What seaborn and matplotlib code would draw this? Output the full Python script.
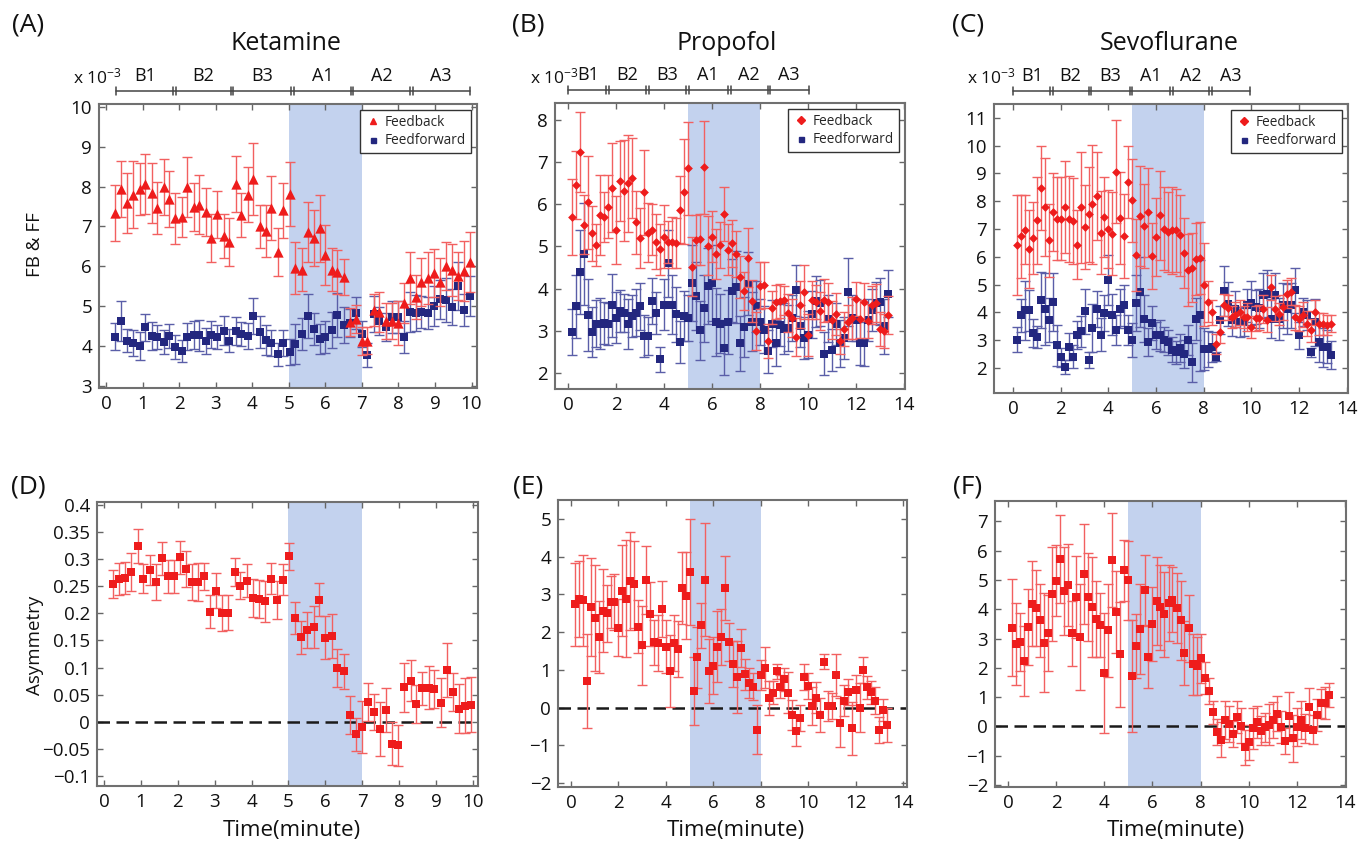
import numpy as np
import matplotlib
matplotlib.use("Agg")
import matplotlib.pyplot as plt
import seaborn as sns
from matplotlib.lines import Line2D
from matplotlib.ticker import FuncFormatter

# ------------------------------------------------------------------ data
time_ket = [0.25, 0.41, 0.58, 0.74, 0.91, 1.07, 1.24, 1.40, 1.57, 1.73,
            1.89, 2.06, 2.22, 2.39, 2.55, 2.72, 2.88, 3.04, 3.21, 3.37,
            3.54, 3.70, 3.87, 4.03, 4.20, 4.36, 4.52, 4.69, 4.85, 5.02,
            5.18, 5.35, 5.51, 5.68, 5.84, 6.00, 6.17, 6.33, 6.50, 6.66,
            6.83, 6.99, 7.15, 7.32, 7.48, 7.65, 7.81, 7.98, 8.14, 8.31,
            8.47, 8.63, 8.80, 8.96, 9.13, 9.29, 9.46, 9.62, 9.79, 9.95]

time_80 = [0.17, 0.33, 0.50, 0.67, 0.83, 1.00, 1.17, 1.33, 1.50, 1.67,
           1.83, 2.00, 2.17, 2.33, 2.50, 2.67, 2.83, 3.00, 3.17, 3.33,
           3.50, 3.67, 3.83, 4.00, 4.17, 4.33, 4.50, 4.67, 4.83, 5.00,
           5.17, 5.33, 5.50, 5.67, 5.83, 6.00, 6.17, 6.33, 6.50, 6.67,
           6.83, 7.00, 7.17, 7.33, 7.50, 7.67, 7.83, 8.00, 8.17, 8.33,
           8.50, 8.67, 8.83, 9.00, 9.17, 9.33, 9.50, 9.67, 9.83, 10.00,
           10.17, 10.33, 10.50, 10.67, 10.83, 11.00, 11.17, 11.33, 11.50, 11.67,
           11.83, 12.00, 12.17, 12.33, 12.50, 12.67, 12.83, 13.00, 13.17, 13.33]

# Ketamine (x 1e-3)
ket_fb = [7.34, 7.94, 7.59, 7.80, 7.93, 8.07, 7.84, 7.47, 7.99, 7.68,
          7.20, 7.24, 7.98, 7.49, 7.55, 7.37, 6.71, 7.30, 6.76, 6.61,
          8.07, 7.29, 7.80, 8.19, 7.00, 6.89, 7.47, 6.37, 7.40, 7.82,
          5.96, 5.92, 6.87, 6.71, 6.95, 6.29, 5.92, 5.85, 5.73, 4.60,
          4.67, 4.12, 4.14, 4.90, 4.85, 4.63, 4.63, 4.58, 5.07, 5.71,
          5.24, 5.60, 5.70, 5.83, 5.60, 6.00, 5.90, 5.75, 5.88, 6.10]
ket_fb_err = [0.70, 0.70, 0.75, 0.85, 0.65, 0.75, 0.75, 0.65, 0.70, 0.70,
              0.65, 0.50, 0.75, 0.60, 0.75, 0.60, 0.60, 0.60, 0.55, 0.60,
              0.70, 0.55, 0.70, 0.90, 0.55, 0.65, 0.80, 0.60, 0.70, 0.80,
              0.65, 0.55, 0.75, 0.70, 0.85, 0.75, 0.55, 0.55, 0.45, 0.35,
              0.35, 0.35, 0.35, 0.40, 0.50, 0.45, 0.45, 0.55, 0.50, 0.65,
              0.55, 0.60, 0.65, 0.60, 0.60, 0.60, 0.65, 0.60, 0.75, 0.75]
ket_ff = [4.24, 4.62, 4.14, 4.08, 4.00, 4.47, 4.26, 4.22, 4.11, 4.25,
          3.97, 3.87, 4.24, 4.27, 4.27, 4.13, 4.29, 4.24, 4.39, 4.14,
          4.39, 4.30, 4.25, 4.75, 4.36, 4.15, 4.08, 3.79, 4.07, 3.86,
          4.05, 4.31, 4.75, 4.43, 4.17, 4.22, 4.41, 4.79, 4.53, 4.58,
          4.83, 4.30, 3.77, 4.81, 4.64, 4.47, 4.73, 4.72, 4.22, 4.85,
          4.83, 4.85, 4.82, 5.00, 5.17, 5.15, 4.98, 5.50, 4.90, 5.25]
ket_ff_err = [0.33, 0.50, 0.30, 0.33, 0.35, 0.33, 0.35, 0.30, 0.30, 0.30,
              0.30, 0.28, 0.33, 0.35, 0.38, 0.33, 0.33, 0.30, 0.37, 0.30,
              0.35, 0.30, 0.33, 0.45, 0.40, 0.38, 0.33, 0.30, 0.33, 0.33,
              0.50, 0.40, 0.55, 0.40, 0.38, 0.40, 0.45, 0.55, 0.45, 0.35,
              0.40, 0.33, 0.30, 0.45, 0.35, 0.35, 0.40, 0.40, 0.40, 0.50,
              0.45, 0.40, 0.40, 0.50, 0.50, 0.55, 0.45, 0.60, 0.40, 0.50]
ket_asym = [0.254, 0.263, 0.265, 0.277, 0.324, 0.264, 0.280, 0.257, 0.301, 0.268,
            0.268, 0.303, 0.281, 0.258, 0.258, 0.268, 0.203, 0.242, 0.201, 0.201,
            0.276, 0.251, 0.260, 0.229, 0.227, 0.222, 0.264, 0.225, 0.262, 0.305,
            0.191, 0.156, 0.169, 0.175, 0.225, 0.155, 0.158, 0.099, 0.093, 0.012,
            -0.023, -0.010, 0.036, 0.019, -0.013, 0.022, -0.040, -0.043, 0.064, 0.076,
            0.033, 0.062, 0.063, 0.061, 0.035, 0.096, 0.056, 0.024, 0.030, 0.032]
ket_asym_err = [0.025, 0.030, 0.030, 0.035, 0.031, 0.027, 0.027, 0.033, 0.030, 0.030,
                0.030, 0.031, 0.033, 0.033, 0.035, 0.025, 0.030, 0.033, 0.033, 0.032,
                0.026, 0.025, 0.030, 0.035, 0.035, 0.038, 0.028, 0.035, 0.028, 0.025,
                0.030, 0.030, 0.033, 0.038, 0.030, 0.040, 0.040, 0.035, 0.033, 0.035,
                0.030, 0.048, 0.035, 0.033, 0.050, 0.040, 0.040, 0.038, 0.045, 0.038,
                0.035, 0.030, 0.040, 0.035, 0.045, 0.050, 0.035, 0.045, 0.050, 0.050]

# Propofol (x 1e-3)
pro_fb = [5.70, 6.46, 7.23, 5.51, 6.05, 5.31, 5.03, 5.75, 5.70, 5.94,
          6.39, 5.39, 6.56, 6.32, 6.50, 6.63, 5.57, 5.20, 6.28, 5.33,
          5.40, 5.11, 4.93, 5.23, 5.10, 5.10, 5.08, 5.87, 6.30, 6.85,
          4.52, 5.15, 5.17, 6.88, 5.02, 5.23, 4.82, 5.03, 5.77, 4.92,
          5.07, 4.82, 4.28, 3.94, 4.73, 3.70, 3.00, 4.07, 4.08, 2.75,
          3.55, 3.68, 3.70, 3.72, 3.42, 3.30, 2.85, 3.62, 3.92, 2.90,
          3.72, 3.68, 3.48, 3.72, 3.68, 3.25, 3.40, 2.75, 3.05, 3.20,
          3.30, 3.75, 3.27, 3.68, 3.23, 3.60, 3.65, 3.05, 3.00, 3.38]
pro_fb_err = [0.90, 0.80, 0.95, 0.70, 1.10, 0.65, 0.50, 0.95, 0.60, 0.75,
              1.05, 0.80, 0.95, 1.20, 1.15, 0.95, 0.75, 0.70, 1.00, 0.70,
              0.60, 0.65, 0.60, 0.75, 0.50, 0.60, 0.60, 0.80, 1.25, 1.10,
              0.70, 0.60, 0.60, 1.10, 0.70, 0.60, 0.60, 0.55, 0.65, 0.60,
              0.55, 0.55, 0.50, 0.45, 0.70, 0.50, 0.45, 0.55, 0.55, 0.40,
              0.40, 0.40, 0.40, 0.35, 0.45, 0.45, 0.45, 0.55, 0.65, 0.50,
              0.45, 0.40, 0.45, 0.50, 0.45, 0.45, 0.50, 0.30, 0.40, 0.40,
              0.50, 0.40, 0.45, 0.45, 0.40, 0.45, 0.45, 0.40, 0.40, 0.45]
pro_ff = [2.97, 3.58, 4.40, 4.82, 3.37, 2.97, 3.17, 3.17, 3.19, 3.16,
          3.60, 3.31, 3.47, 3.43, 3.16, 3.35, 3.43, 3.58, 2.87, 2.87,
          3.70, 3.43, 2.32, 3.62, 4.60, 3.62, 3.39, 2.74, 3.35, 3.31,
          4.14, 3.82, 3.01, 3.53, 4.06, 4.14, 3.21, 3.17, 2.60, 3.21,
          3.95, 4.04, 2.70, 3.09, 4.12, 3.21, 3.58, 3.21, 3.03, 2.51,
          3.17, 2.71, 3.13, 3.05, 3.07, 3.31, 3.96, 3.11, 2.82, 2.91,
          3.39, 3.70, 3.66, 2.46, 3.29, 2.54, 3.17, 2.70, 2.82, 3.92,
          3.31, 3.25, 2.70, 2.71, 3.25, 3.50, 3.66, 3.69, 3.11, 3.88]
pro_ff_err = [0.55, 0.75, 1.00, 1.20, 0.85, 0.60, 0.55, 0.60, 0.50, 0.50,
              0.75, 0.60, 0.50, 0.45, 0.60, 0.50, 0.55, 0.55, 0.50, 0.45,
              0.55, 0.50, 0.30, 0.60, 0.80, 0.70, 0.65, 0.50, 0.60, 0.55,
              0.90, 0.80, 0.70, 0.80, 0.90, 0.90, 0.80, 0.70, 0.65, 0.75,
              0.75, 0.85, 0.65, 0.70, 0.75, 0.70, 0.60, 0.55, 0.55, 0.50,
              0.55, 0.55, 0.50, 0.60, 0.55, 0.55, 0.60, 0.50, 0.50, 0.55,
              0.55, 0.60, 0.55, 0.50, 0.55, 0.50, 0.50, 0.55, 0.50, 0.80,
              0.55, 0.50, 0.50, 0.55, 0.50, 0.50, 0.50, 0.55, 0.65, 0.55]
pro_asym = [2.74, 2.88, 2.84, 0.71, 2.66, 2.37, 1.88, 2.57, 2.50, 2.80,
            2.80, 2.12, 3.10, 2.88, 3.35, 3.27, 2.15, 1.65, 3.39, 2.48,
            1.73, 1.71, 2.61, 1.62, 0.97, 1.71, 1.55, 3.17, 2.96, 3.59,
            0.44, 1.33, 2.18, 3.39, 0.97, 1.11, 1.62, 1.87, 3.17, 1.73,
            1.16, 0.82, 1.59, 0.88, 0.66, 0.56, -0.58, 0.87, 1.06, 0.25,
            0.40, 0.96, 0.56, 0.75, 0.40, -0.19, -0.61, -0.27, 0.81, 0.58,
            0.05, 0.27, -0.19, 1.22, 0.05, 0.04, 0.87, -0.40, 0.19, 0.41,
            -0.55, 0.47, 0.00, 1.00, 0.54, 0.41, 0.19, -0.59, -0.06, -0.46]
pro_asym_err = [1.10, 1.00, 1.20, 1.25, 1.30, 1.40, 0.95, 1.10, 0.75, 0.70,
                0.75, 0.75, 1.20, 1.55, 1.30, 1.15, 0.70, 1.05, 0.90, 0.85,
                0.60, 0.75, 0.75, 0.70, 0.95, 0.75, 0.75, 0.95, 1.15, 1.40,
                0.90, 0.80, 0.60, 1.50, 0.85, 0.75, 0.95, 0.75, 0.85, 0.50,
                0.60, 0.95, 0.50, 0.40, 0.40, 0.35, 0.65, 0.40, 0.55, 0.45,
                0.30, 0.20, 0.30, 0.30, 0.55, 0.40, 0.40, 0.35, 0.35, 0.35,
                0.50, 0.40, 0.45, 0.20, 0.40, 0.35, 0.55, 0.65, 0.40, 0.35,
                0.70, 0.40, 0.65, 0.35, 0.30, 0.30, 0.35, 0.35, 0.30, 0.45]

# Sevoflurane (x 1e-3)
sevo_fb = [6.41, 6.74, 6.98, 6.29, 6.68, 7.31, 8.48, 7.79, 6.59, 7.61,
           7.37, 7.37, 7.79, 7.37, 7.28, 6.44, 7.79, 7.07, 7.53, 7.89,
           8.19, 6.87, 7.43, 7.01, 6.83, 9.06, 7.41, 6.75, 8.70, 8.03,
           6.07, 7.48, 7.11, 7.61, 6.03, 6.71, 7.49, 7.01, 6.89, 6.95,
           6.95, 6.77, 6.13, 5.53, 5.61, 5.91, 5.95, 5.00, 4.39, 4.01,
           2.87, 3.31, 4.28, 4.16, 3.83, 3.92, 4.01, 3.83, 3.83, 3.47,
           3.79, 3.80, 4.13, 3.73, 4.91, 4.13, 3.95, 4.19, 4.67, 4.75,
           3.83, 3.77, 3.91, 3.59, 3.35, 4.01, 3.59, 3.59, 3.55, 3.59]
sevo_fb_err = [1.80, 1.50, 1.25, 1.40, 1.30, 1.55, 1.50, 1.75, 1.30, 1.40,
               1.50, 1.50, 1.65, 1.55, 1.55, 1.25, 2.00, 1.50, 1.70, 2.15,
               1.60, 1.50, 1.45, 1.40, 1.50, 1.85, 1.65, 1.50, 1.30, 1.50,
               1.30, 1.80, 1.50, 1.60, 1.20, 1.40, 1.60, 1.50, 1.45, 1.55,
               1.50, 1.45, 1.25, 1.30, 1.25, 1.30, 1.30, 1.50, 0.75, 0.45,
               0.35, 0.40, 0.40, 0.45, 0.40, 0.45, 0.45, 0.40, 0.50, 0.40,
               0.45, 0.45, 0.50, 0.45, 0.45, 0.45, 0.40, 0.45, 0.50, 0.50,
               0.45, 0.45, 0.45, 0.45, 0.40, 0.45, 0.40, 0.40, 0.35, 0.30]
sevo_ff = [3.01, 3.89, 4.07, 4.07, 3.26, 3.11, 4.45, 4.13, 3.73, 4.37,
           2.81, 2.38, 2.05, 2.77, 2.41, 3.20, 3.32, 4.04, 2.29, 3.44,
           4.13, 3.20, 3.98, 5.15, 3.92, 3.37, 4.13, 4.25, 3.37, 3.01,
           4.33, 4.73, 3.77, 2.93, 3.62, 3.17, 3.17, 3.01, 2.93, 2.65,
           2.56, 2.72, 2.50, 3.01, 2.20, 3.77, 3.89, 2.69, 2.69, 2.75,
           2.41, 3.73, 4.76, 4.31, 3.71, 4.13, 3.65, 3.65, 4.25, 4.33,
           4.19, 4.15, 4.61, 4.67, 3.77, 4.61, 3.77, 4.25, 4.13, 4.25,
           4.79, 3.17, 4.01, 3.91, 2.56, 3.65, 2.93, 2.75, 2.77, 2.48]
sevo_ff_err = [0.45, 0.60, 1.05, 0.75, 0.50, 0.40, 1.00, 1.30, 0.80, 1.05,
               0.75, 0.35, 0.25, 0.50, 0.40, 0.50, 0.55, 0.80, 0.30, 0.85,
               0.65, 0.60, 0.65, 0.90, 0.75, 0.55, 0.70, 0.75, 0.55, 0.60,
               1.00, 1.25, 0.85, 0.50, 0.60, 0.50, 0.55, 0.45, 0.45, 0.45,
               0.40, 0.50, 0.50, 0.55, 0.70, 0.75, 2.00, 0.75, 0.65, 0.55,
               0.15, 0.50, 0.90, 0.80, 0.55, 0.65, 0.55, 0.50, 0.60, 0.80,
               0.60, 0.70, 0.80, 0.85, 0.70, 0.80, 0.75, 0.80, 0.90, 0.80,
               0.80, 0.50, 0.50, 0.55, 0.15, 0.85, 0.70, 0.70, 0.60, 0.50]
sevo_asym = [3.37, 2.83, 2.88, 2.24, 3.39, 4.19, 4.03, 3.63, 2.86, 3.20,
             4.53, 4.98, 5.72, 4.62, 4.82, 3.18, 4.43, 3.05, 5.21, 4.43,
             4.07, 3.68, 3.46, 1.84, 3.28, 5.68, 3.90, 2.46, 5.33, 5.00,
             1.72, 2.74, 3.33, 4.67, 2.37, 3.50, 4.28, 4.07, 3.83, 4.22,
             4.33, 4.05, 3.63, 2.50, 3.35, 2.12, 2.07, 2.32, 1.65, 1.20,
             0.48, -0.20, -0.45, 0.23, 0.08, -0.26, 0.33, 0.02, -0.72, -0.54,
             -0.07, 0.16, -0.15, -0.03, 0.05, 0.22, 0.44, -0.03, -0.49, 0.34,
             -0.41, -0.03, 0.23, -0.06, 0.67, -0.11, 0.39, 0.79, 0.79, 1.07]
sevo_asym_err = [1.65, 1.40, 1.00, 1.20, 1.30, 1.45, 1.30, 1.25, 1.70, 1.30,
                 1.60, 1.20, 1.50, 1.50, 1.40, 1.10, 1.40, 1.80, 1.70, 1.50,
                 1.70, 1.30, 1.10, 2.05, 1.60, 1.60, 1.40, 1.80, 1.05, 1.35,
                 1.90, 1.10, 1.55, 1.20, 1.05, 1.25, 1.50, 1.45, 1.45, 1.30,
                 1.10, 1.20, 1.35, 1.10, 1.15, 1.05, 1.00, 0.85, 0.55, 0.45,
                 0.40, 0.45, 0.60, 0.65, 0.60, 0.45, 0.55, 0.60, 0.60, 0.60,
                 0.70, 0.55, 0.50, 0.50, 0.70, 0.60, 0.60, 0.55, 0.45, 0.85,
                 0.80, 0.65, 0.65, 0.50, 0.65, 0.50, 0.55, 0.50, 0.55, 0.40]

epoch_labels = ["B1", "B2", "B3", "A1", "A2", "A3"]
ket_epochs = [0.26, 1.86, 3.44, 5.10, 6.73, 8.36, 9.96]
pro_epochs = [0.00, 1.64, 3.30, 4.97, 6.72, 8.38, 10.05]
sevo_epochs = [0.00, 1.60, 3.23, 4.94, 6.65, 8.28, 9.95]
ket_span = [5, 7]
pro_span = [5, 8]
sevo_span = [5, 8]

# ------------------------------------------------------------------ style
sns.set_theme(style="ticks")
plt.rcParams["font.family"] = ["Open Sans", "DejaVu Sans"]
plt.rcParams["mathtext.fontset"] = "custom"
plt.rcParams["mathtext.rm"] = "Open Sans"
plt.rcParams["mathtext.it"] = "Open Sans"
plt.rcParams["axes.unicode_minus"] = True

RED = "#ee1c1c"
RED_ERR = "#f26060"
BLUE = "#23277f"
BLUE_ERR = "#5a5ea8"
SHADE = "#c3d2ee"
FRAME = "#707070"
TXT = "#111111"

W, H = 1368, 846
fig = plt.figure(figsize=(W / 100, H / 100), dpi=100)
fig.patch.set_facecolor("white")


def px_axes(l, t, r, b):
    ax = fig.add_axes([l / W, 1 - b / H, (r - l) / W, (b - t) / H])
    return ax, (r - l), (b - t)


def style(ax, xlim, ylim, xticks, yticks, fmt=None):
    ax.set_facecolor("white")
    ax.set_xlim(*xlim)
    ax.set_ylim(*ylim)
    ax.set_xticks(xticks)
    ax.set_yticks(yticks)
    if fmt is not None:
        ax.yaxis.set_major_formatter(FuncFormatter(fmt))
    ax.tick_params(axis="both", which="major", direction="in", top=True, right=True,
                   length=4, width=1.0, color="#666666", labelsize=13.5,
                   labelcolor=TXT, pad=5)
    for sp in ax.spines.values():
        sp.set_visible(True)
        sp.set_color(FRAME)
        sp.set_linewidth(1.5)
    ax.set_xlabel("")
    ax.set_ylabel("")
    ax.grid(False)


def series(ax, t, y, err, marker, color, ecolor, s, z):
    ax.errorbar(t, y, yerr=err, fmt="none", ecolor=ecolor, elinewidth=1.0,
                capsize=3.5, capthick=1.0, zorder=z)
    sns.scatterplot(x=t, y=y, ax=ax, marker=marker, color=color, s=s,
                    linewidth=0, legend=False, zorder=z + 0.5)


def epochs(ax, edges, w_px, h_px, xlim):
    tr = ax.get_xaxis_transform()
    y_line = 1 + 13 / h_px
    y_txt = 1 + 28 / h_px
    tick = 4 / h_px
    dx = 1.3 * (xlim[1] - xlim[0]) / w_px
    kw = dict(transform=tr, clip_on=False, color="#444444", lw=1.1)
    ax.plot([edges[0], edges[-1]], [y_line, y_line], **kw)
    for k, e in enumerate(edges):
        if k in (0, len(edges) - 1):
            ax.plot([e, e], [y_line - tick, y_line + tick], **kw)
        else:
            for d in (-dx, dx):
                ax.plot([e + d, e + d], [y_line - tick, y_line + tick], **kw)
    for k, lab in enumerate(epoch_labels):
        ax.text((edges[k] + edges[k + 1]) / 2, y_txt, lab, transform=tr,
                ha="center", va="center", fontsize=13, color=TXT)


def legend(ax, fb_marker):
    handles = [Line2D([], [], marker=fb_marker, color=RED, ls="none",
                      markersize=5 if fb_marker == "^" else 4.2, label="Feedback"),
               Line2D([], [], marker="s", color=BLUE, ls="none", markersize=3.6,
                      label="Feedforward")]
    lg = ax.legend(handles=handles, loc="upper right", fontsize=9.8, frameon=True,
                   fancybox=False, edgecolor="#333333", framealpha=1,
                   handlelength=1.2, handletextpad=0.3, borderpad=0.35,
                   labelspacing=0.25, borderaxespad=0.45)
    lg.get_frame().set_linewidth(1.0)


def fmt_asym(v, pos):
    return ("%g" % round(v, 3)).replace("-", "\u2212")


# ---------------- top row
axA, wA, hA = px_axes(99, 104, 477, 388)
axA.axvspan(*ket_span, color=SHADE, lw=0, zorder=0.5)
series(axA, time_ket, ket_ff, ket_ff_err, "s", BLUE, BLUE_ERR, 28, 3)
series(axA, time_ket, ket_fb, ket_fb_err, "^", RED, RED_ERR, 55, 4)
style(axA, (-0.2, 10.15), (2.95, 10.07), range(0, 11), range(3, 11))
epochs(axA, ket_epochs, wA, hA, (-0.2, 10.15))
legend(axA, "^")

axB, wB, hB = px_axes(555, 103, 905, 389)
axB.axvspan(*pro_span, color=SHADE, lw=0, zorder=0.5)
series(axB, time_80, pro_ff, pro_ff_err, "s", BLUE, BLUE_ERR, 26, 3)
series(axB, time_80, pro_fb, pro_fb_err, "D", RED, RED_ERR, 20, 4)
style(axB, (-0.55, 14.05), (1.62, 8.4), range(0, 15, 2), range(2, 9))
epochs(axB, pro_epochs, wB, hB, (-0.55, 14.05))
legend(axB, "D")

axC, wC, hC = px_axes(994, 104, 1348, 393)
axC.axvspan(*sevo_span, color=SHADE, lw=0, zorder=0.5)
series(axC, time_80, sevo_ff, sevo_ff_err, "s", BLUE, BLUE_ERR, 26, 3)
series(axC, time_80, sevo_fb, sevo_fb_err, "D", RED, RED_ERR, 20, 4)
style(axC, (-0.8, 14.05), (1.1, 11.5), range(0, 15, 2), range(2, 12))
epochs(axC, sevo_epochs, wC, hC, (-0.8, 14.05))
legend(axC, "D")

# ---------------- bottom row
axD, _, _ = px_axes(97, 502, 478, 786)
axD.axvspan(*ket_span, color=SHADE, lw=0, zorder=0.5)
axD.axhline(0, color="#1a1a1a", lw=1.8, dashes=(5, 2.6), zorder=2)
series(axD, time_ket, ket_asym, ket_asym_err, "s", RED, RED_ERR, 30, 3)
style(axD, (-0.19, 10.14), (-0.118, 0.405), range(0, 11),
      [-0.1, -0.05, 0, 0.05, 0.1, 0.15, 0.2, 0.25, 0.3, 0.35, 0.4], fmt_asym)

axE, _, _ = px_axes(558, 500, 907, 787)
axE.axvspan(*pro_span, color=SHADE, lw=0, zorder=0.5)
axE.axhline(0, color="#1a1a1a", lw=1.8, dashes=(5, 2.6), zorder=2)
series(axE, time_80, pro_asym, pro_asym_err, "s", RED, RED_ERR, 30, 3)
style(axE, (-0.55, 14.17), (-2.1, 5.5), range(0, 15, 2), range(-2, 6), fmt_asym)

axF, _, _ = px_axes(995, 501, 1346, 787)
axF.axvspan(*sevo_span, color=SHADE, lw=0, zorder=0.5)
axF.axhline(0, color="#1a1a1a", lw=1.8, dashes=(5, 2.6), zorder=2)
series(axF, time_80, sevo_asym, sevo_asym_err, "s", RED, RED_ERR, 30, 3)
style(axF, (-0.54, 14.04), (-2.07, 7.7), range(0, 15, 2), range(-2, 8), fmt_asym)

# ---------------- figure texts
def ftext(x, y, s, **kw):
    fig.text(x / W, 1 - y / H, s, **kw)

for x, lab in [(28, "(A)"), (528, "(B)"), (968, "(C)")]:
    ftext(x, 25, lab, ha="center", va="center", fontsize=19, color=TXT)
for x, lab in [(28, "(D)"), (528, "(E)"), (968, "(F)")]:
    ftext(x, 487, lab, ha="center", va="center", fontsize=19, color=TXT)
for x, lab in [(286, "Ketamine"), (727, "Propofol"), (1169, "Sevoflurane")]:
    ftext(x, 43, lab, ha="center", va="center", fontsize=18, color=TXT)
for x in (73, 530, 967):
    ftext(x, 77, r"x 10$^{-3}$", ha="left", va="center", fontsize=12.5, color=TXT)
ftext(35, 245, "FB & FF", ha="center", va="center", rotation=90, fontsize=13.5, color=TXT)
ftext(35, 645, "Asymmetry", ha="center", va="center", rotation=90, fontsize=13.5, color=TXT)
for x in (292, 736, 1176):
    ftext(x, 830, "Time(minute)", ha="center", va="center", fontsize=16, color=TXT)

fig.savefig("out.png", dpi=100, facecolor="white")
